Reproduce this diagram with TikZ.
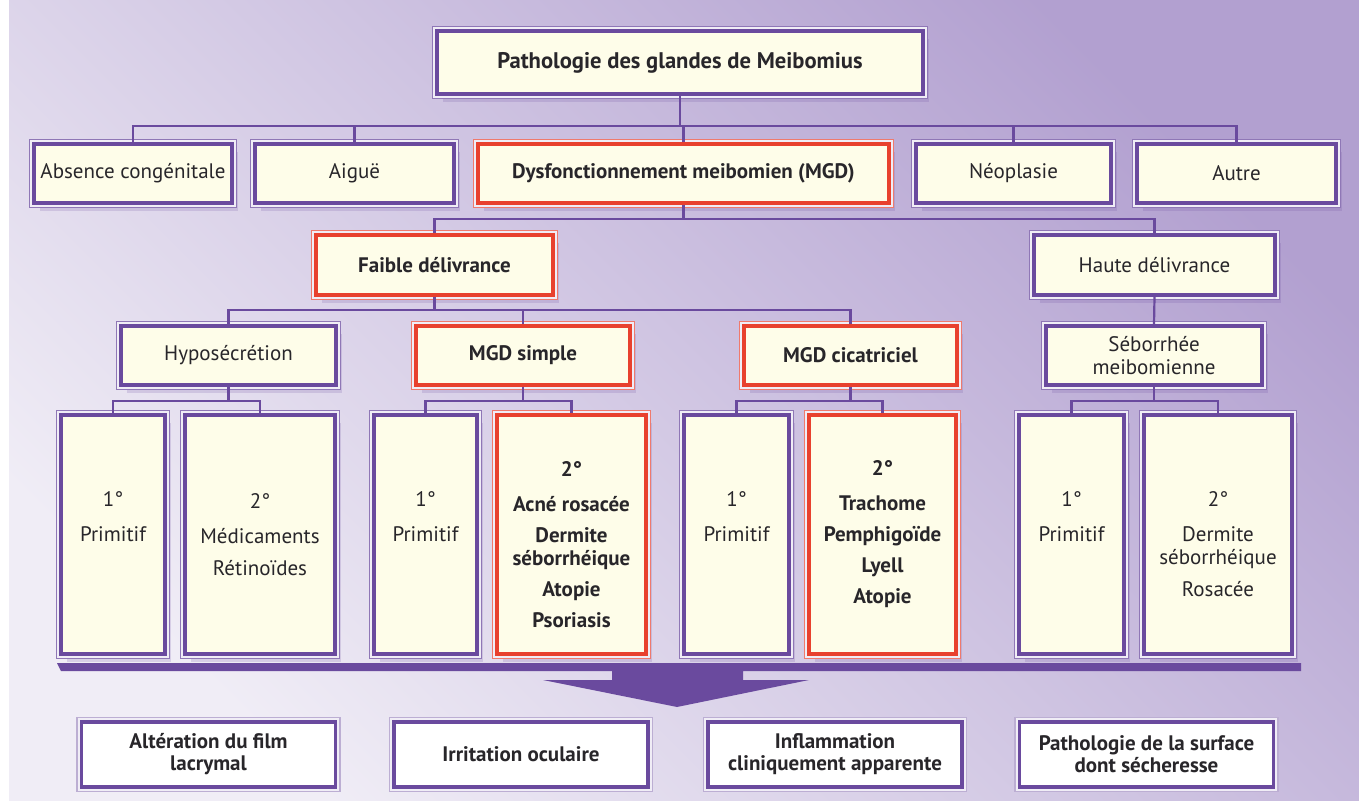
\documentclass[tikz,border=0pt]{standalone}
\usepackage{fontspec}
\setmainfont{PT Sans}
\usetikzlibrary{shadows}
\definecolor{mgpurple}{RGB}{106, 74, 158}
\definecolor{mgred}{RGB}{232, 65, 46}
\definecolor{mgcream}{RGB}{254, 253, 233}
\definecolor{mgink}{RGB}{40, 38, 42}
\definecolor{mglight}{RGB}{240, 237, 246}
\definecolor{mgdeep}{RGB}{178, 160, 208}
\tikzset{
    rim/.style 2 args={
        preaction={draw=#2, line width=5.2pt},
        preaction={draw=mglight, line width=3.9pt},
        draw=#1
    },
    box/.style={
        rectangle, line width=1.6pt, fill=mgcream, text=mgink,
        align=center, inner sep=2pt, font=\fontsize{10.5}{11.5}\selectfont,
        drop shadow={shadow xshift=3pt, shadow yshift=-4pt, opacity=0.18, fill=mgpurple}
    },
    purplebox/.style={box, rim={mgpurple}{mgpurple!75}},
    redbox/.style={box, rim={mgred}{mgred!70},
        font=\fontsize{10.5}{11.5}\selectfont\bfseries},
    outbox/.style={rectangle, line width=1.6pt, fill=white, text=mgink,
        rim={mgpurple}{mgpurple!45}, align=center,
        font=\fontsize{10.5}{11}\selectfont\bfseries,
        minimum width=127pt, minimum height=32.5pt},
    rowtwo/.style={minimum height=29.5pt},
    rowfour/.style={minimum height=29.5pt},
    tall/.style={minimum height=119.5pt},
    link/.style={draw=mgpurple, line width=1.1pt},
}
\begin{document}
\begin{tikzpicture}[x=0.5pt, y=-0.5pt]
    \useasboundingbox (0,0) rectangle (1359,801);
    \shade[top color=mglight, bottom color=mgdeep, shading angle=135] (9,0) rectangle (1359,801);

    % broad arrow towards the consequences
    \fill[mgpurple] (57,663) -- (1301,663) -- (1301,671) -- (743,671) -- (743,680)
        -- (809,680) -- (677,707) -- (543,680) -- (612,680) -- (612,671) -- (61,671) -- cycle;

    % levels
    \node[purplebox, minimum width=243pt, minimum height=31.5pt,
        font=\fontsize{11.3}{12}\selectfont\bfseries] (root) at (680,62.5) {Pathologie des glandes de Meibomius};

    \node[purplebox, rowtwo, minimum width=99pt] (absent) at (133,173.5) {Absence congénitale};
    \node[purplebox, rowtwo, minimum width=99.5pt] (aigue) at (354.5,173.5) {Aiguë};
    \node[redbox, rowtwo, minimum width=205.5pt] (mgd) at (683.5,173.5) {Dysfonctionnement meibomien (MGD)};
    \node[purplebox, rowtwo, minimum width=97.5pt] (neo) at (1013.5,173.5) {Néoplasie};
    \node[purplebox, rowtwo, minimum width=99.5pt] (autre) at (1236.5,173.5) {Autre};

    \node[redbox, minimum width=118.5pt, minimum height=30pt] (faible) at (434.5,265) {Faible délivrance};
    \node[purplebox, minimum width=120.5pt, minimum height=30pt] (haute) at (1154.5,265) {Haute délivrance};

    \node[purplebox, rowfour, minimum width=107.5pt] (hypo) at (228.5,355.5) {Hyposécrétion};
    \node[redbox, rowfour, minimum width=107pt] (simple) at (523,355.5) {MGD simple};
    \node[redbox, rowfour, minimum width=106.5pt] (cicat) at (850.5,355.5) {MGD cicatriciel};
    \node[purplebox, rowfour, minimum width=108pt] (sebo) at (1154,355.5) {Séborrhée\\meibomienne};

    \node[purplebox, tall, minimum width=52pt] (hypoA) at (113,534.5) {1°\\[6pt]Primitif\\[6pt]\mbox{}};
    \node[purplebox, tall, minimum width=75pt] (hypoB) at (260,534.5) {2°\\[6pt]Médicaments\\[4.5pt]Rétinoïdes};
    \node[purplebox, tall, minimum width=51.5pt] (simpleA) at (425.5,534.5) {1°\\[6pt]Primitif\\[6pt]\mbox{}};
    \node[redbox, tall, minimum width=74.5pt] (simpleB) at (571.5,534.5) {\mbox{}\\[6pt]2°\\[6pt]Acné rosacée\\[4pt]Dermite\\séborrhéique\\[4pt]Atopie\\[4pt]Psoriasis};
    \node[purplebox, tall, minimum width=52.5pt] (cicatA) at (736.5,534.5) {1°\\[6pt]Primitif\\[6pt]\mbox{}};
    \node[redbox, tall, minimum width=73.5pt] (cicatB) at (882.5,534.5) {2°\\[6pt]Trachome\\[4pt]Pemphigoïde\\[4pt]Lyell\\[4pt]Atopie};
    \node[purplebox, tall, minimum width=52.5pt] (seboA) at (1071.5,534.5) {1°\\[6pt]Primitif\\[6pt]\mbox{}};
    \node[purplebox, tall, minimum width=74pt] (seboB) at (1218,534.5) {\mbox{}\\[6pt]2°\\[6pt]Dermite\\séborrhéique\\[4.5pt]Rosacée};

    % consequences
    \node[outbox] (film) at (208.5,754.5) {Altération du film\\lacrymal};
    \node[outbox] (irrit) at (521,754.5) {Irritation oculaire};
    \node[outbox] (inflam) at (835,754.5) {Inflammation\\cliniquement apparente};
    \node[outbox] (surface) at (1146.5,754.5) {Pathologie de la surface\\dont sécheresse};

    % connectors
    \coordinate (busA) at (0,126);
    \coordinate (busB) at (0,219);
    \coordinate (busC) at (0,310);
    \coordinate (busD) at (0,401);
    \draw[link] (root.south) -- (root.south |- busA);
    \draw[link] (absent.north) -- (absent.north |- busA) -- (autre.north |- busA) -- (autre.north);
    \foreach \n in {aigue, mgd, neo}
        \draw[link] (\n.north) -- (\n.north |- busA);

    \draw[link] (mgd.south) -- (mgd.south |- busB);
    \draw[link] (faible.north) -- (faible.north |- busB) -- (haute.north |- busB) -- (haute.north);

    \draw[link] (faible.south) -- (faible.south |- busC);
    \draw[link] (hypo.north) -- (hypo.north |- busC) -- (cicat.north |- busC) -- (cicat.north);
    \draw[link] (simple.north) -- (simple.north |- busC);
    \draw[link] (haute.south) -- (sebo.north);

    \foreach \p/\a/\b in {hypo/hypoA/hypoB, simple/simpleA/simpleB, cicat/cicatA/cicatB, sebo/seboA/seboB} {
        \draw[link] (\p.south) -- (\p.south |- busD);
        \draw[link] (\a.north) -- (\a.north |- busD) -- (\b.north |- busD) -- (\b.north);
    }
\end{tikzpicture}
\end{document}
